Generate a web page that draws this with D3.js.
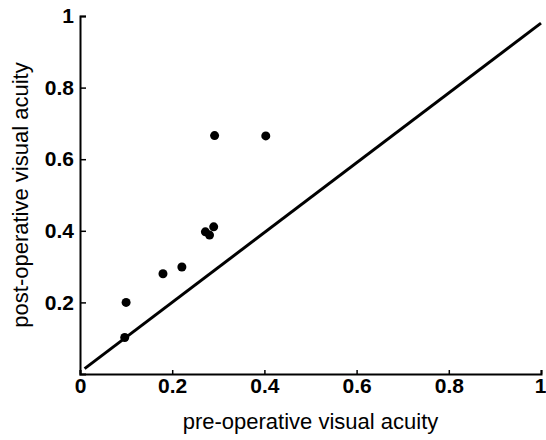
<!DOCTYPE html>
<html>
<head>
<meta charset="utf-8">
<script src="https://cdn.jsdelivr.net/npm/d3@7"></script>
<style>
  body { margin: 0; background: #fff; }
  svg { display: block; font-family: "Liberation Sans", Arial, Helvetica, sans-serif; }
</style>
</head>
<body>
<div id="chart"></div>
<script>
// pre-operative vs post-operative visual acuity
const preAcuity  = [0.097, 0.100, 0.180, 0.221, 0.272, 0.281, 0.290, 0.292, 0.403];
const postAcuity = [0.102, 0.200, 0.280, 0.299, 0.397, 0.388, 0.411, 0.666, 0.665];

// line of equality as drawn
const diagX = [0.01, 1.0];
const diagY = [0.015, 0.98];

const tickValues = [0, 0.2, 0.4, 0.6, 0.8, 1];

const width = 546,
      height = 440,
      margin = { top: 16, right: 5, bottom: 66, left: 80 };

const innerWidth = width - margin.left - margin.right,
      innerHeight = height - margin.top - margin.bottom;

const svg = d3.select("#chart").append("svg")
    .attr("width", width)
    .attr("height", height);

const g = svg.append("g")
    .attr("transform", "translate(" + margin.left + "," + margin.top + ")");

const x = d3.scaleLinear().domain([0, 1]).range([0, 461]);
const y = d3.scaleLinear().domain([0, 1]).range([innerHeight, 0]);

const fmt = d => d === 0 || d === 1 ? String(d) : d3.format(".1f")(d);

// axes, ticks pointing inward
const xAxis = g.append("g")
    .attr("transform", "translate(0," + innerHeight + ")")
    .call(d3.axisBottom(x).tickValues(tickValues).tickFormat(fmt)
        .tickSizeInner(-4).tickSizeOuter(-4).tickPadding(4));

const yAxis = g.append("g")
    .call(d3.axisLeft(y).tickValues(tickValues.filter(d => d > 0)).tickFormat(fmt)
        .tickSizeInner(-6).tickSizeOuter(-6).tickPadding(6));

[xAxis, yAxis].forEach(a => {
    a.select(".domain").attr("stroke", "#000").attr("stroke-width", 2);
    a.selectAll(".tick line").attr("stroke", "#000").attr("stroke-width", 1.5);
    a.selectAll(".tick text")
        .attr("fill", "#000")
        .style("font-size", "21px")
        .style("font-weight", "bold");
});

// keep the last x label inside the page
xAxis.selectAll(".tick text").filter(d => d === 1).attr("dx", "-1");

// equality line
const line = d3.line()
    .x(d => x(d[0]))
    .y(d => y(d[1]));

g.append("path")
    .datum(d3.zip(diagX, diagY))
    .attr("d", line)
    .attr("fill", "none")
    .attr("stroke", "#000")
    .attr("stroke-width", 3);

// points
g.selectAll(".dot")
    .data(d3.zip(preAcuity, postAcuity))
    .enter().append("circle")
    .attr("class", "dot")
    .attr("cx", d => x(d[0]))
    .attr("cy", d => y(d[1]))
    .attr("r", 4.5)
    .attr("fill", "#000");

// axis titles
g.append("text")
    .attr("x", x(0.5))
    .attr("y", innerHeight + 55)
    .attr("text-anchor", "middle")
    .style("font-size", "22px")
    .text("pre-operative visual acuity");

g.append("text")
    .attr("transform", "translate(" + (28 - margin.left) + "," + (innerHeight / 2) + ") rotate(-90)")
    .attr("text-anchor", "middle")
    .style("font-size", "22px")
    .text("post-operative visual acuity");
</script>
</body>
</html>
